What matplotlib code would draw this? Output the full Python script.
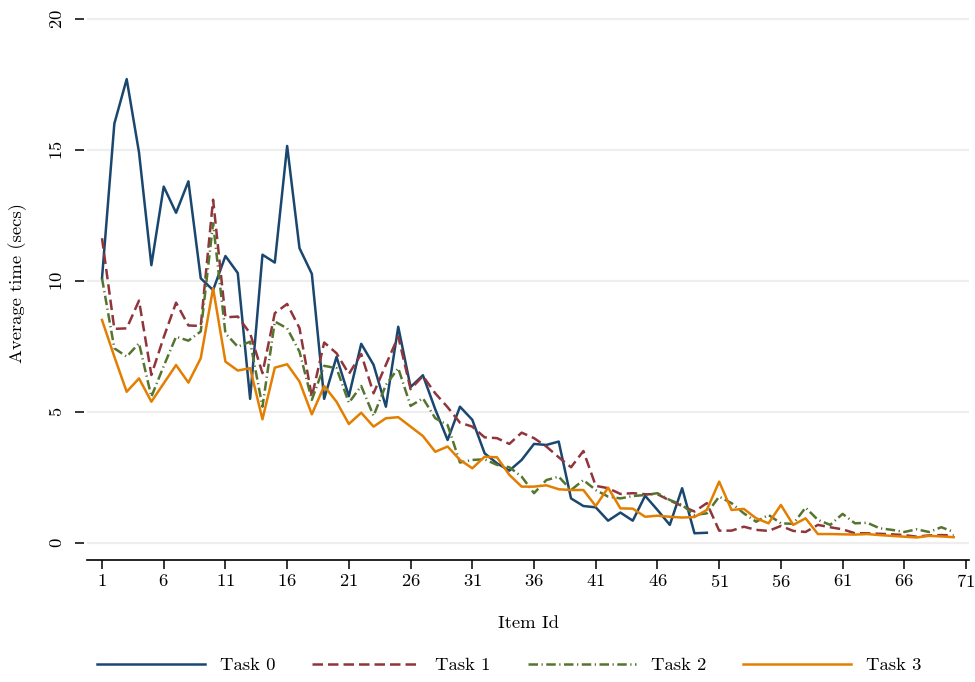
import numpy as np
import matplotlib.pyplot as plt

plt.rcParams['font.family'] = ['cmr10', 'DejaVu Serif']
plt.rcParams['axes.formatter.use_mathtext'] = True
plt.rcParams['font.size'] = 13.4

# average time per item (secs)
task0 = [10.1, 16.0, 17.7, 14.9, 10.6, 13.6, 12.6, 13.8, 10.1, 9.65,
         10.95, 10.3, 5.5, 11.0, 10.7, 15.15, 11.25, 10.27, 5.5, 7.1,
         5.6, 7.6, 6.8, 5.2, 8.25, 5.95, 6.4, 5.1, 3.93, 5.2,
         4.7, 3.42, 3.04, 2.76, 3.17, 3.78, 3.74, 3.87, 1.7, 1.41,
         1.36, 0.85, 1.16, 0.85, 1.8, 1.26, 0.69, 2.09, 0.37, 0.39]
task1 = [11.63, 8.17, 8.19, 9.25, 6.41, 7.85, 9.17, 8.3, 8.28, 13.1,
         8.61, 8.64, 8.0, 6.48, 8.77, 9.12, 8.2, 5.58, 7.65, 7.24,
         6.45, 7.21, 5.71, 6.8, 7.88, 5.87, 6.37, 5.71, 5.18, 4.59,
         4.44, 4.03, 4.0, 3.78, 4.21, 4.0, 3.68, 3.27, 2.89, 3.51,
         2.18, 2.09, 1.87, 1.9, 1.86, 1.86, 1.62, 1.41, 1.2, 1.52,
         0.47, 0.47, 0.62, 0.5, 0.46, 0.65, 0.46, 0.42, 0.69, 0.6,
         0.52, 0.37, 0.37, 0.35, 0.33, 0.3, 0.24, 0.29, 0.3, 0.29]
task2 = [10.1, 7.43, 7.11, 7.62, 5.58, 6.75, 7.87, 7.72, 8.07, 12.2,
         8.0, 7.49, 7.68, 5.2, 8.45, 8.19, 7.3, 5.46, 6.76, 6.67,
         5.35, 5.99, 4.85, 6.03, 6.67, 5.23, 5.52, 4.76, 4.5, 3.07,
         3.17, 3.19, 2.98, 2.89, 2.53, 1.9, 2.4, 2.53, 2.02, 2.4,
         2.02, 1.77, 1.7, 1.79, 1.83, 1.9, 1.64, 1.45, 1.07, 1.13,
         1.77, 1.52, 1.13, 0.81, 1.07, 0.75, 0.73, 1.35, 0.88, 0.69,
         1.11, 0.75, 0.77, 0.56, 0.5, 0.42, 0.52, 0.42, 0.6, 0.42]
task3 = [8.51, 7.11, 5.77, 6.28, 5.39, 6.09, 6.79, 6.12, 7.05, 9.72,
         6.92, 6.58, 6.67, 4.72, 6.69, 6.82, 6.16, 4.91, 5.99, 5.39,
         4.54, 4.97, 4.44, 4.76, 4.8, 4.44, 4.08, 3.48, 3.68, 3.17,
         2.85, 3.29, 3.27, 2.6, 2.15, 2.15, 2.2, 2.05, 2.02, 2.02,
         1.41, 2.11, 1.32, 1.31, 1.0, 1.04, 1.0, 0.97, 0.99, 1.26,
         2.34, 1.26, 1.3, 0.94, 0.75, 1.45, 0.69, 0.94, 0.34, 0.34,
         0.33, 0.32, 0.34, 0.3, 0.27, 0.24, 0.21, 0.27, 0.25, 0.22]

labels = ["Task 0", "Task 1", "Task 2", "Task 3"]
colors = ["#1a476f", "#90353b", "#55752f", "#e37e00"]
styles = ["-", (0, (4.2, 2.0)), (0, (3.8, 1.4, 0.5, 1.4)), "-"]

xticks = list(range(1, 72, 5))
yticks = [0, 5, 10, 15, 20]

fig = plt.figure(figsize=(9.75, 6.82), dpi=100)
ax = fig.add_axes([87/975, 1 - 560/682, 882/975, 549/682])

for data, lab, col, ls in zip([task0, task1, task2, task3], labels, colors, styles):
    x = np.arange(1, len(data) + 1)
    ax.plot(x, data, color=col, linestyle=ls, linewidth=1.8, label=lab)

ax.set_xlim(-0.215, 71.24)
ax.set_ylim(-0.65, 20.3)
ax.set_xticks(xticks)
ax.set_yticks(yticks)
ax.grid(axis='y', color='#eeeeee', linewidth=1.6)
ax.set_axisbelow(True)

for s in ['top', 'right', 'left']:
    ax.spines[s].set_visible(False)
ax.spines['left'].set_position(('outward', 2))
ax.spines['bottom'].set_linewidth(1.2)
ax.tick_params(axis='y', length=6.5, width=1.1, pad=7, labelrotation=90)
for t in ax.get_yticklabels():
    t.set_verticalalignment('center')
ax.tick_params(axis='x', length=6.5, width=1.1, pad=3)

fig.text(18/975, 1 - 283/682, "Average time (secs)", rotation=90,
         ha='center', va='center')
fig.text(528/975, 1 - 623/682, "Item Id", ha='center', va='center')

fig.legend(loc='center', bbox_to_anchor=(509/975, 1 - 665/682), ncol=4,
           frameon=False, handlelength=5.8, handletextpad=0.8,
           columnspacing=2.0)

fig.savefig("out.png", dpi=100)
